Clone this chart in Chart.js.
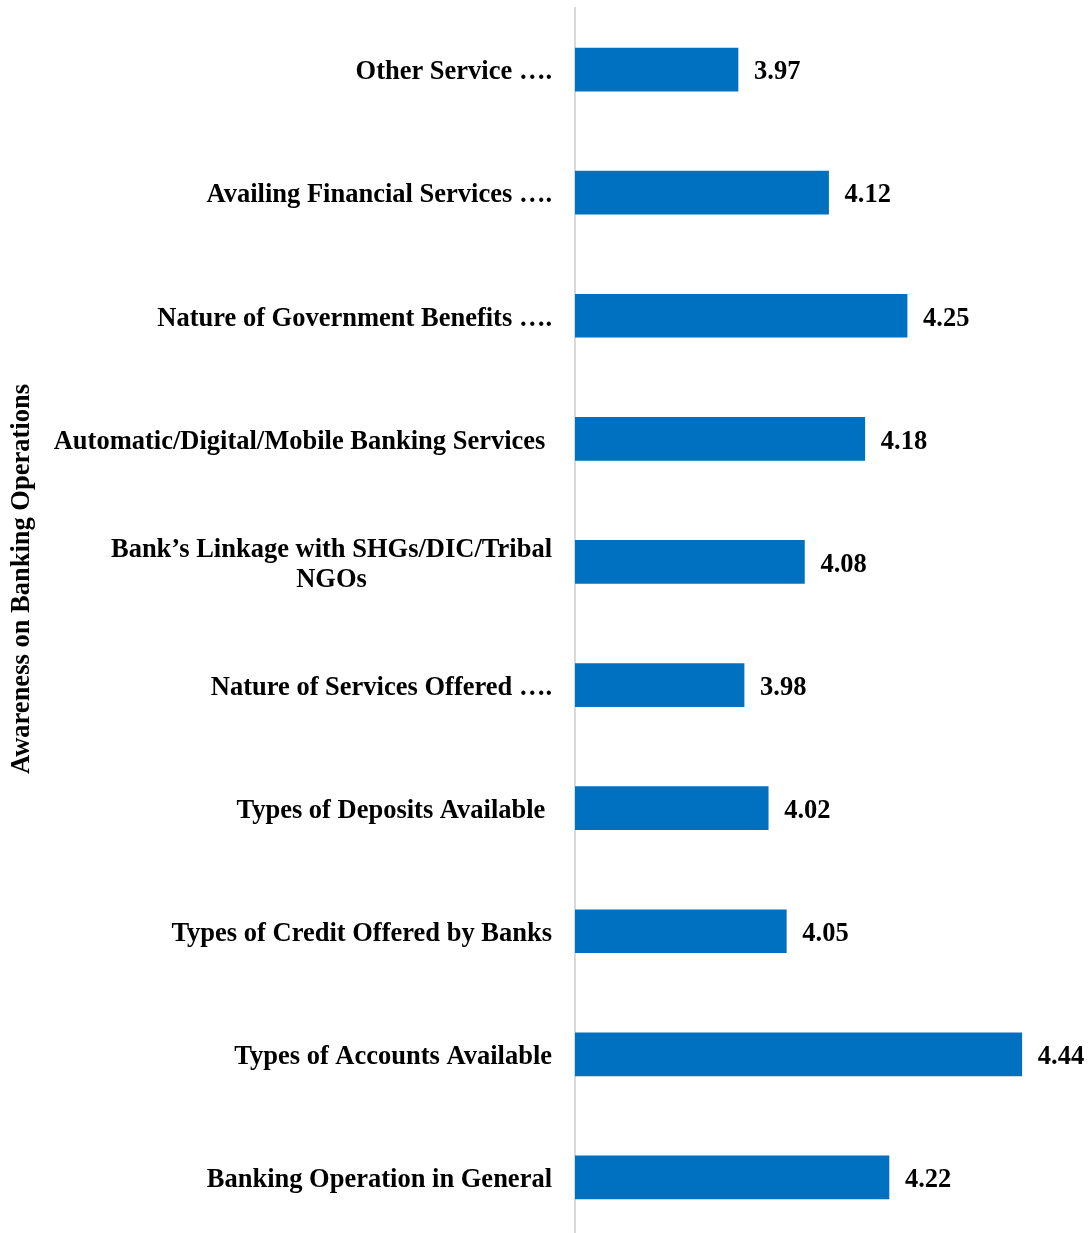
<!DOCTYPE html>
<html>
<head>
<meta charset="utf-8">
<script src="https://cdn.jsdelivr.net/npm/chart.js@4.4.1/dist/chart.umd.min.js"></script>
<style>
  html, body { margin: 0; padding: 0; background: #ffffff; overflow: hidden; }
  #wrap { width: 1088px; height: 1233px; position: relative; overflow: hidden; }
  #c { display: block; }
</style>
</head>
<body>
<div id="wrap"><canvas id="c" width="1088" height="1240"></canvas></div>
<script>
// Awareness items, listed top to bottom
const categories = [
  'Other Service \u2026.',
  'Availing Financial Services \u2026.',
  'Nature of Government Benefits \u2026.',
  'Automatic/Digital/Mobile Banking Services ',
  ['Bank\u2019s Linkage with SHGs/DIC/Tribal', 'NGOs'],
  'Nature of Services Offered \u2026.',
  'Types of Deposits Available ',
  'Types of Credit Offered by Banks',
  'Types of Accounts Available',
  'Banking Operation in General'
];
// Mean awareness scores
const scores = [3.97, 4.12, 4.25, 4.18, 4.08, 3.98, 4.02, 4.05, 4.44, 4.22];
const axisTitle = 'Awareness on Banking Operations';
const scoreMin = 3.7;
const scoreMax = 4.5;

const FONT = 'bold 26.5px "Liberation Serif", "Times New Roman", serif';
const BAR_COLOR = '#0070C0';

// Draws the category labels (multi-line ones centred as a block),
// the score beside each bar and the rotated axis title.
const labelPlugin = {
  id: 'labelPlugin',
  afterDraw(chart) {
    const ctx = chart.ctx;
    const y = chart.scales.y;
    const x = chart.scales.x;
    ctx.save();
    ctx.font = FONT;
    ctx.fillStyle = '#000000';
    ctx.textBaseline = 'middle';

    const labelRight = chart.chartArea.left - 23;
    const lineH = 30;
    ctx.textAlign = 'center';
    categories.forEach((lab, i) => {
      const lines = Array.isArray(lab) ? lab : [lab];
      const cy = y.getPixelForValue(i) + 3;
      const maxW = Math.max(...lines.map(l => ctx.measureText(l).width));
      const cx = labelRight - maxW / 2;
      lines.forEach((l, k) => {
        const ly = cy + (k - (lines.length - 1) / 2) * lineH;
        ctx.fillText(l, cx, ly);
      });
    });

    ctx.textAlign = 'left';
    scores.forEach((v, i) => {
      const px = x.getPixelForValue(v);
      const py = y.getPixelForValue(i) + 3;
      ctx.fillText(v.toFixed(2), px + 16, py);
    });

    ctx.translate(22, 579);
    ctx.rotate(-Math.PI / 2);
    ctx.textAlign = 'center';
    ctx.fillText(axisTitle, 0, 0);
    ctx.restore();
  }
};

new Chart(document.getElementById('c'), {
  type: 'bar',
  data: {
    labels: categories,
    datasets: [{
      data: scores,
      backgroundColor: BAR_COLOR,
      borderWidth: 0,
      barThickness: 43
    }]
  },
  options: {
    indexAxis: 'y',
    responsive: false,
    animation: false,
    devicePixelRatio: 1,
    layout: { padding: { top: 8, bottom: 1, left: 0, right: 30 } },
    plugins: {
      legend: { display: false },
      tooltip: { enabled: false }
    },
    scales: {
      x: {
        display: false,
        min: scoreMin,
        max: scoreMax
      },
      y: {
        type: 'category',
        offset: true,
        grid: { display: false, drawTicks: false },
        border: { display: true, color: '#d9d9d9', width: 2 },
        ticks: { display: false },
        afterFit(scale) { scale.width = 575; }
      }
    }
  },
  plugins: [labelPlugin]
});
</script>
</body>
</html>
